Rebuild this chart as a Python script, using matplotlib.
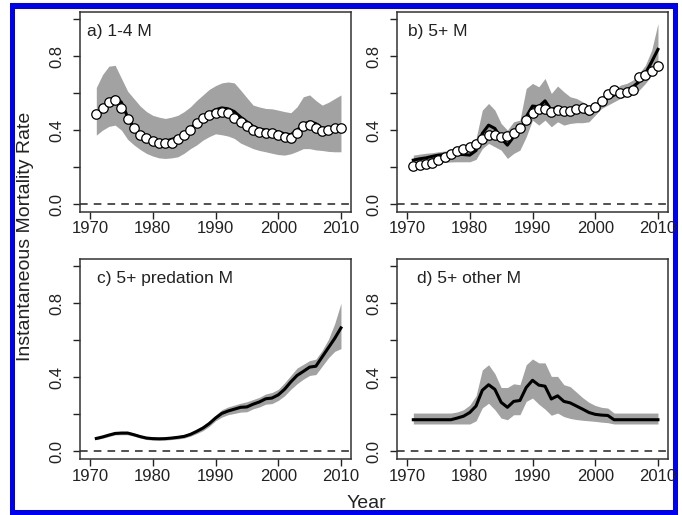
# Instantaneous mortality rate panels (a-d), R-style base graphics look
import numpy as np
import matplotlib.pyplot as plt
from matplotlib.patches import Rectangle

plt.rcParams['font.family'] = ['Liberation Sans', 'DejaVu Sans']

# ─── DATA ─────────────────────────────────────────────────────────────
years = list(range(1971, 2011))

# a) 1-4 M
a_est = [0.48, 0.52, 0.56, 0.58, 0.55, 0.47, 0.41, 0.38, 0.36, 0.35,
         0.34, 0.34, 0.35, 0.36, 0.38, 0.41, 0.44, 0.47, 0.49, 0.51,
         0.52, 0.515, 0.50, 0.47, 0.445, 0.42, 0.405, 0.40, 0.395, 0.39,
         0.38, 0.375, 0.40, 0.43, 0.445, 0.435, 0.41, 0.41, 0.415, 0.42]
a_upr = [0.63, 0.70, 0.745, 0.75, 0.68, 0.61, 0.57, 0.53, 0.50, 0.48,
         0.47, 0.463, 0.47, 0.48, 0.50, 0.526, 0.56, 0.59, 0.62, 0.64,
         0.655, 0.66, 0.655, 0.616, 0.575, 0.535, 0.525, 0.517, 0.515, 0.508,
         0.50, 0.494, 0.526, 0.58, 0.59, 0.56, 0.535, 0.55, 0.57, 0.59]
a_lwr = [0.373, 0.40, 0.42, 0.427, 0.40, 0.35, 0.32, 0.295, 0.274, 0.26,
         0.25, 0.247, 0.25, 0.256, 0.275, 0.30, 0.32, 0.346, 0.365, 0.38,
         0.375, 0.368, 0.355, 0.33, 0.315, 0.30, 0.29, 0.283, 0.275, 0.268,
         0.265, 0.272, 0.285, 0.30, 0.30, 0.293, 0.29, 0.285, 0.283, 0.283]
a_obs = [0.486, 0.517, 0.553, 0.562, 0.517, 0.459, 0.409, 0.373, 0.355, 0.34,
         0.332, 0.328, 0.328, 0.35, 0.373, 0.40, 0.436, 0.463, 0.48, 0.495,
         0.50, 0.49, 0.468, 0.445, 0.423, 0.403, 0.391, 0.382, 0.382, 0.373,
         0.364, 0.358, 0.382, 0.422, 0.427, 0.414, 0.396, 0.40, 0.409, 0.414]

# b) 5+ M
b_est = [0.238, 0.245, 0.25, 0.258, 0.265, 0.268, 0.27, 0.27, 0.268, 0.265,
         0.29, 0.382, 0.427, 0.409, 0.355, 0.319, 0.364, 0.391, 0.472, 0.53,
         0.526, 0.558, 0.508, 0.526, 0.499, 0.508, 0.504, 0.504, 0.486, 0.508,
         0.553, 0.571, 0.589, 0.607, 0.616, 0.634, 0.661, 0.706, 0.769, 0.836]
b_upr = [0.265, 0.27, 0.275, 0.278, 0.283, 0.287, 0.29, 0.293, 0.296, 0.30,
         0.355, 0.508, 0.544, 0.508, 0.436, 0.40, 0.445, 0.454, 0.625, 0.652,
         0.634, 0.679, 0.598, 0.638, 0.607, 0.58, 0.571, 0.553, 0.526, 0.544,
         0.58, 0.598, 0.616, 0.643, 0.652, 0.67, 0.706, 0.751, 0.832, 0.976]
b_lwr = [0.20, 0.206, 0.212, 0.218, 0.224, 0.226, 0.228, 0.229, 0.229, 0.229,
         0.242, 0.30, 0.328, 0.31, 0.292, 0.247, 0.274, 0.292, 0.364, 0.454,
         0.427, 0.454, 0.418, 0.445, 0.427, 0.436, 0.44, 0.44, 0.445, 0.481,
         0.517, 0.535, 0.553, 0.571, 0.58, 0.589, 0.616, 0.652, 0.697, 0.742]
b_obs = [0.207, 0.211, 0.216, 0.224, 0.238, 0.256, 0.27, 0.288, 0.30, 0.31,
         0.324, 0.35, 0.373, 0.373, 0.364, 0.368, 0.382, 0.409, 0.454, 0.495,
         0.514, 0.515, 0.499, 0.508, 0.505, 0.505, 0.512, 0.52, 0.51, 0.524,
         0.556, 0.594, 0.616, 0.60, 0.605, 0.616, 0.688, 0.70, 0.718, 0.747]

# c) 5+ predation M
c_est = [0.07, 0.078, 0.088, 0.097, 0.099, 0.099, 0.09, 0.08, 0.072, 0.069,
         0.068, 0.069, 0.072, 0.076, 0.081, 0.092, 0.108, 0.126, 0.15, 0.18,
         0.205, 0.218, 0.228, 0.238, 0.24, 0.255, 0.267, 0.284, 0.288, 0.305,
         0.335, 0.375, 0.41, 0.432, 0.455, 0.46, 0.51, 0.56, 0.61, 0.667]
c_upr = [0.077, 0.085, 0.096, 0.105, 0.108, 0.108, 0.099, 0.088, 0.08, 0.077,
         0.076, 0.077, 0.08, 0.085, 0.09, 0.102, 0.12, 0.14, 0.165, 0.195,
         0.225, 0.24, 0.25, 0.26, 0.268, 0.28, 0.292, 0.31, 0.318, 0.335,
         0.37, 0.41, 0.45, 0.47, 0.49, 0.498, 0.545, 0.605, 0.69, 0.80]
c_lwr = [0.063, 0.071, 0.08, 0.089, 0.09, 0.09, 0.082, 0.072, 0.064, 0.061,
         0.06, 0.061, 0.064, 0.067, 0.072, 0.082, 0.096, 0.112, 0.135, 0.165,
         0.185, 0.198, 0.205, 0.212, 0.214, 0.23, 0.24, 0.255, 0.258, 0.275,
         0.30, 0.335, 0.365, 0.39, 0.41, 0.415, 0.46, 0.505, 0.54, 0.555]

# d) 5+ other M
d_est = [0.171, 0.171, 0.171, 0.171, 0.171, 0.171, 0.171, 0.18, 0.19, 0.21,
         0.245, 0.33, 0.36, 0.335, 0.265, 0.238, 0.27, 0.275, 0.345, 0.384,
         0.358, 0.352, 0.283, 0.30, 0.27, 0.262, 0.245, 0.228, 0.21, 0.20,
         0.196, 0.194, 0.171, 0.171, 0.171, 0.171, 0.171, 0.171, 0.171, 0.171]
d_upr = [0.207, 0.207, 0.207, 0.207, 0.207, 0.207, 0.207, 0.213, 0.225, 0.25,
         0.30, 0.44, 0.468, 0.42, 0.345, 0.345, 0.365, 0.36, 0.468, 0.499,
         0.478, 0.478, 0.405, 0.405, 0.36, 0.35, 0.32, 0.29, 0.265, 0.248,
         0.238, 0.234, 0.207, 0.207, 0.207, 0.207, 0.207, 0.207, 0.207, 0.207]
d_lwr = [0.148, 0.148, 0.148, 0.148, 0.148, 0.148, 0.148, 0.148, 0.148, 0.148,
         0.165, 0.235, 0.26, 0.225, 0.18, 0.171, 0.198, 0.198, 0.27, 0.288,
         0.255, 0.228, 0.195, 0.207, 0.188, 0.178, 0.172, 0.168, 0.165, 0.162,
         0.158, 0.155, 0.148, 0.148, 0.148, 0.148, 0.148, 0.148, 0.148, 0.148]

panel_titles = ['a) 1-4 M', 'b) 5+ M', 'c) 5+ predation M', 'd) 5+ other M']
x_ticks = [1970, 1980, 1990, 2000, 2010]
y_ticks = [0.0, 0.2, 0.4, 0.6, 0.8, 1.0]
y_ticklabels = ['0.0', '', '0.4', '', '0.8', '']

# ─── FIGURE ───────────────────────────────────────────────────────────
W, H = 682, 515
fig = plt.figure(figsize=(W / 100, H / 100), dpi=100, facecolor='white')

# thin blue frame (image pixels: x 10..678, y 3..515 from top)
fig.patches.append(Rectangle((10 / W, 0), 668 / W, 512 / H, transform=fig.transFigure,
                             facecolor='#0000f0', edgecolor='none', zorder=-2))
fig.patches.append(Rectangle((15 / W, 5 / H), 658 / W, 501 / H,
                             transform=fig.transFigure, facecolor='white',
                             edgecolor='none', zorder=-1))

def px_axes(left, top, width=271, height=200):
    return fig.add_axes([left / W, (H - top - height) / H, width / W, height / H])

axs = [px_axes(80, 11.6), px_axes(397, 11.6), px_axes(80, 258.8), px_axes(397, 258.8)]

band_col = '#a2a2a2'
panels = [(a_est, a_lwr, a_upr, a_obs), (b_est, b_lwr, b_upr, b_obs),
          (c_est, c_lwr, c_upr, None), (d_est, d_lwr, d_upr, None)]
title_x = [0.026, 0.04, 0.063, 0.074]

for i, (ax, (est, lwr, upr, obs)) in enumerate(zip(axs, panels)):
    ax.fill_between(years, lwr, upr, color=band_col, linewidth=0, zorder=1)
    ax.plot(years, est, color='black', lw=2.2, zorder=3, solid_joinstyle='round')
    if obs is not None:
        ax.plot(years, obs, 'o', ms=6.8, mfc='white', mec='black', mew=0.9, zorder=4)
    ax.axhline(0, color='#222222', lw=1.1, ls=(0, (5, 4)), zorder=2)

    ax.set_xlim(1968.4, 2011.6)
    ax.set_ylim(-0.04, 1.04)
    ax.set_xticks(x_ticks)
    ax.set_yticks(y_ticks)
    ax.set_yticklabels(y_ticklabels, rotation=90, va='center')
    ax.tick_params(axis='both', direction='out', length=5, width=1.0,
                   labelsize=12, colors='#222222')
    ax.tick_params(axis='x', pad=2)
    ax.tick_params(axis='y', pad=6)
    for s in ax.spines.values():
        s.set_linewidth(1.1)
        s.set_color('#333333')

    ax.text(title_x[i], 0.90, panel_titles[i], transform=ax.transAxes,
            fontsize=12.5, va='center', ha='left', color='#222222')

fig.text(26 / W, 1 - 236 / H, 'Instantaneous Mortality Rate', rotation=90,
         ha='center', va='center', fontsize=14, color='#222222')
fig.text(366 / W, 1 - 503 / H, 'Year', ha='center', va='center',
         fontsize=14, color='#222222')

plt.savefig('out.png', dpi=100)
